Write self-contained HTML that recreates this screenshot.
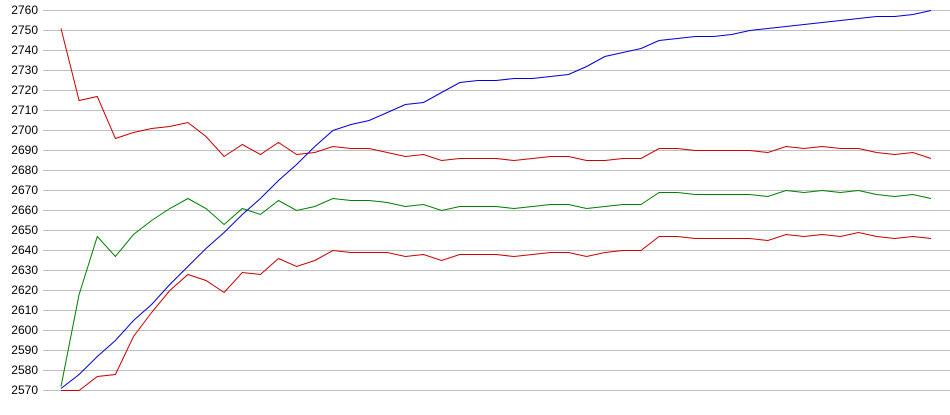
<!DOCTYPE html>
<html><head><meta charset="utf-8"><style>
html,body{margin:0;padding:0;background:#fff;}
svg{display:block;}
text{font-family:"Liberation Sans",sans-serif;font-size:12px;fill:#000;}
</style></head><body>
<svg id="c" width="950" height="415" xmlns="http://www.w3.org/2000/svg"></svg>
<script>
var s=document.getElementById('c'),h='';
for(var v=2570;v<=2760;v+=10){var y=10+(2760-v)*2;
h+='<line x1="43" y1="'+(y+0.5)+'" x2="950" y2="'+(y+0.5)+'" stroke="#c0c0c0" stroke-width="1"/>';
h+='<text x="38" y="'+(y+4)+'" text-anchor="end">'+v+'</text>';}
var R1=[2751,2715,2717,2696,2699,2701,2702,2704,2697,2687,2693,2688,2694,2688,2689,2692,2691,2691,2689,2687,2688,2685,2686,2686,2686,2685,2686,2687,2687,2685,2685,2686,2686,2691,2691,2690,2690,2690,2690,2689,2692,2691,2692,2691,2691,2689,2688,2689,2686];
var G=[2572,2618,2647,2637,2648,2655,2661,2666,2661,2653,2661,2658,2665,2660,2662,2666,2665,2665,2664,2662,2663,2660,2662,2662,2662,2661,2662,2663,2663,2661,2662,2663,2663,2669,2669,2668,2668,2668,2668,2667,2670,2669,2670,2669,2670,2668,2667,2668,2666];
var R2=[2570,2570,2577,2578,2597,2609,2620,2628,2625,2619,2629,2628,2636,2632,2635,2640,2639,2639,2639,2637,2638,2635,2638,2638,2638,2637,2638,2639,2639,2637,2639,2640,2640,2647,2647,2646,2646,2646,2646,2645,2648,2647,2648,2647,2649,2647,2646,2647,2646];
var B=[2571,2578,2587,2595,2605,2613,2623,2632,2641,2649,2658,2666,2675,2683,2692,2700,2703,2705,2709,2713,2714,2719,2724,2725,2725,2726,2726,2727,2728,2732,2737,2739,2741,2745,2746,2747,2747,2748,2750,2751,2752,2753,2754,2755,2756,2757,2757,2758,2760];
function pl(a,c){var p=[];for(var i=0;i<a.length;i++){p.push((61+i*870/48).toFixed(1)+','+(10.5+(2760-a[i])*2));}
return '<polyline fill="none" stroke="'+c+'" stroke-width="1" points="'+p.join(' ')+'"/>';}
h+=pl(G,'#008000')+pl(R2,'#cc0000')+pl(R1,'#cc0000')+pl(B,'#0000dd');
s.innerHTML=h;
</script>
</body></html>
